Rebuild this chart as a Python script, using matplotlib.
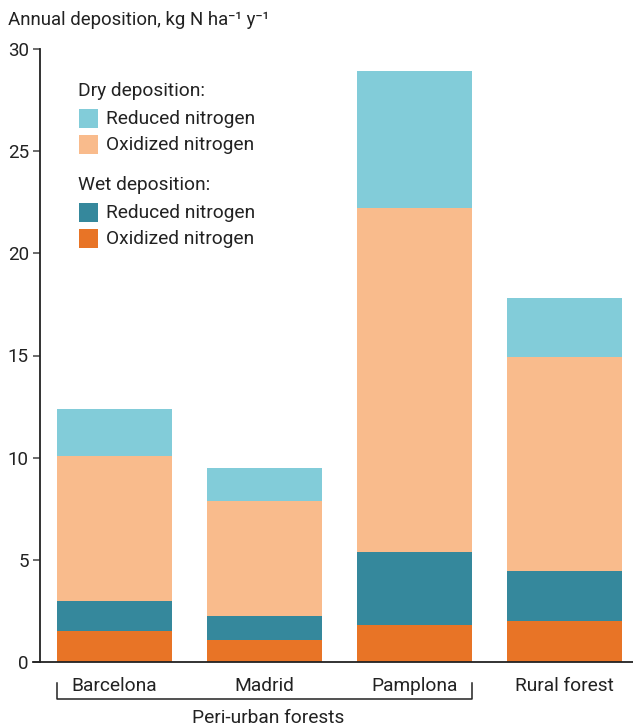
import matplotlib

matplotlib.use("Agg")
import matplotlib.pyplot as plt  # noqa: E402
import numpy as np  # noqa: E402
from matplotlib.patches import Rectangle  # noqa: E402
from matplotlib.transforms import blended_transform_factory  # noqa: E402

plt.rcParams["font.family"] = ["Roboto", "DejaVu Sans"]

sites = ["Barcelona", "Madrid", "Pamplona", "Rural forest"]
wet_oxidized = [1.52, 1.08, 1.81, 2.0]
wet_reduced = [1.47, 1.17, 3.57, 2.45]
dry_oxidized = [7.09, 5.63, 16.82, 10.48]
dry_reduced = [2.30, 1.62, 6.70, 2.87]

series = [
    (wet_oxidized, "#e87426"),
    (wet_reduced, "#35889c"),
    (dry_oxidized, "#f9bb8c"),
    (dry_reduced, "#82ccd9"),
]

W, H = 633, 728
FS = 13.8
fig = plt.figure(figsize=(W / 100, H / 100), dpi=100)
# axes starts a bit left of the y spine so the x axis line pokes out like the original
ax = fig.add_axes([33 / W, (H - 662) / H, 1 - 33 / W, (662 - 49) / H])

x = np.arange(len(sites))
bottom = np.zeros(len(sites))
for vals, col in series:
    ax.bar(x, vals, width=0.767, bottom=bottom, color=col, edgecolor="none")
    bottom += np.array(vals)

ax.set_xlim(-(114.5 - 33) / 150, (633 - 114.5) / 150)
ax.set_ylim(0, 30)
ax.spines[["top", "right"]].set_visible(False)
ax.spines["left"].set_position(("data", -(114.5 - 40) / 150))
for s in ("left", "bottom"):
    ax.spines[s].set_linewidth(1.3)
    ax.spines[s].set_color("#222222")
ax.set_yticks([0, 5, 10, 15, 20, 25, 30])
ax.tick_params(axis="y", length=5, width=1.1, color="#444444", labelsize=13.5, pad=3)
ax.set_xticks(x)
ax.set_xticklabels(sites)
ax.tick_params(axis="x", length=0, labelsize=FS, pad=11, labelcolor="#222222")
ax.tick_params(axis="y", labelcolor="#222222")

fig.text(8 / W, 1 - 20 / H, "Annual deposition, kg N ha\u207b\u00b9 y\u207b\u00b9",
         fontsize=13.4, color="#222222", va="center", ha="left")

# bracket under the peri-urban sites
tr = blended_transform_factory(ax.transData, fig.transFigure)
xl, xr = -0.767 / 2, 2 + 0.767 / 2
yb, yt = 1 - 699 / H, 1 - 683 / H
ax.plot([xl, xl, xr, xr], [yt, yb, yb, yt], transform=tr, color="#222222",
        lw=1.1, clip_on=False)
fig.text(268 / W, 1 - 718 / H, "Peri-urban forests", fontsize=FS, color="#222222",
         ha="center", va="center")


# hand-made legend with two group headers
def px(xp, yp):
    return xp / W, 1 - yp / H


def legend_row(y, color, label):
    fig.patches.append(Rectangle(px(79, y + 9), 19 / W, 19 / H, transform=fig.transFigure,
                                 facecolor=color, edgecolor="none"))
    fig.text(*px(106, y), label, fontsize=FS, color="#222222", va="center")


fig.text(*px(78, 91), "Dry deposition:", fontsize=FS, color="#222222", va="center")
legend_row(119, "#82ccd9", "Reduced nitrogen")
legend_row(145, "#f9bb8c", "Oxidized nitrogen")
fig.text(*px(78, 185), "Wet deposition:", fontsize=FS, color="#222222", va="center")
legend_row(213, "#35889c", "Reduced nitrogen")
legend_row(239, "#e87426", "Oxidized nitrogen")

fig.savefig("out.png", dpi=100)
